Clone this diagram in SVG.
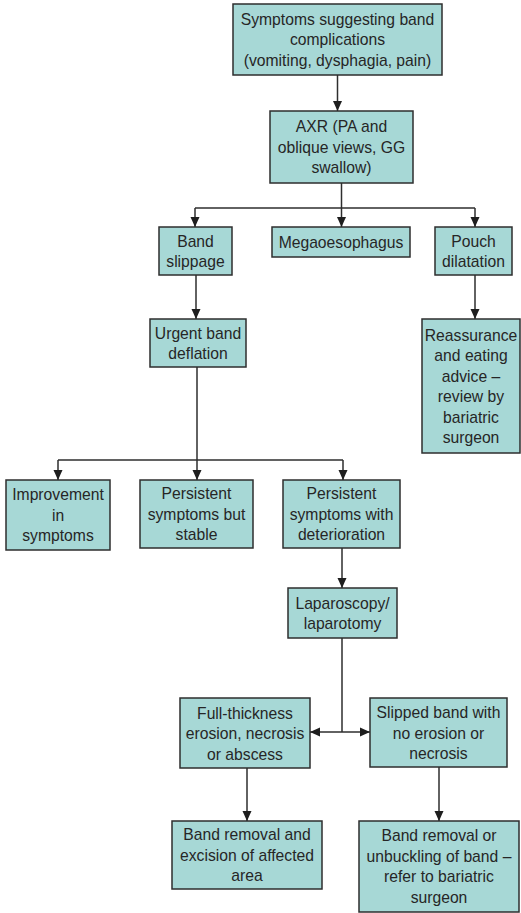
<svg xmlns="http://www.w3.org/2000/svg" width="521" height="913" viewBox="0 0 521 913">
<style>
.box{fill:#a7d8d6;stroke:#2e2e2e;stroke-width:1.5}
.t{font-family:"Liberation Sans",Arial,sans-serif;font-size:15.7px;fill:#262626;text-anchor:middle}
.c{fill:none;stroke:#2e2e2e;stroke-width:1.5}
</style>
<defs>
<marker id="ah" markerUnits="userSpaceOnUse" markerWidth="10" markerHeight="10" viewBox="0 0 10 10" refX="10" refY="5" orient="auto">
<path d="M0,0.5 L10,5 L0,9.5 Z" fill="#1e1e1e"/>
</marker>
</defs>
<rect width="521" height="913" fill="#ffffff"/>
<g id="connectors">
<line class="c" x1="337.5" y1="75" x2="337.5" y2="111" marker-end="url(#ah)"/>
<line class="c" x1="341.5" y1="183" x2="341.5" y2="227" marker-end="url(#ah)"/>
<line class="c" x1="195" y1="208" x2="475" y2="208"/>
<line class="c" x1="195" y1="208" x2="195" y2="227" marker-end="url(#ah)"/>
<line class="c" x1="475" y1="208" x2="475" y2="227" marker-end="url(#ah)"/>
<line class="c" x1="196" y1="275" x2="196" y2="319" marker-end="url(#ah)"/>
<line class="c" x1="475" y1="275" x2="475" y2="319" marker-end="url(#ah)"/>
<line class="c" x1="197" y1="367" x2="197" y2="480" marker-end="url(#ah)"/>
<line class="c" x1="58" y1="460" x2="343" y2="460"/>
<line class="c" x1="58" y1="460" x2="58" y2="480" marker-end="url(#ah)"/>
<line class="c" x1="343" y1="460" x2="343" y2="480" marker-end="url(#ah)"/>
<line class="c" x1="342" y1="548" x2="342" y2="588" marker-end="url(#ah)"/>
<line class="c" x1="342" y1="638" x2="342" y2="732"/>
<line class="c" x1="342" y1="732" x2="310" y2="732" marker-end="url(#ah)"/>
<line class="c" x1="342" y1="732" x2="370" y2="732" marker-end="url(#ah)"/>
<line class="c" x1="247" y1="768" x2="247" y2="821" marker-end="url(#ah)"/>
<line class="c" x1="439" y1="767" x2="439" y2="821" marker-end="url(#ah)"/>
</g>
<g id="symptoms">
<rect class="box" x="233" y="4" width="209" height="71"/>
<text class="t" x="337.5" y="24.5">Symptoms suggesting band</text>
<text class="t" x="337.5" y="45">complications</text>
<text class="t" x="337.5" y="65.5">(vomiting, dysphagia, pain)</text>
</g>
<g id="axr">
<rect class="box" x="270" y="111" width="143" height="72"/>
<text class="t" x="341.5" y="132">AXR (PA and</text>
<text class="t" x="341.5" y="152.5">oblique views, GG</text>
<text class="t" x="341.5" y="173">swallow)</text>
</g>
<g id="band-slippage">
<rect class="box" x="159" y="227" width="73" height="48"/>
<text class="t" x="195.5" y="246.5">Band</text>
<text class="t" x="195.5" y="267">slippage</text>
</g>
<g id="megaoesophagus">
<rect class="box" x="272" y="227" width="138" height="30"/>
<text class="t" x="341" y="247.5">Megaoesophagus</text>
</g>
<g id="pouch-dilatation">
<rect class="box" x="435" y="227" width="77" height="48"/>
<text class="t" x="473.5" y="246.5">Pouch</text>
<text class="t" x="473.5" y="267">dilatation</text>
</g>
<g id="reassurance">
<rect class="box" x="422" y="319" width="98" height="134"/>
<text class="t" x="471" y="340.5">Reassurance</text>
<text class="t" x="471" y="361">and eating</text>
<text class="t" x="471" y="381.5">advice –</text>
<text class="t" x="471" y="402">review by</text>
<text class="t" x="471" y="422.5">bariatric</text>
<text class="t" x="471" y="443">surgeon</text>
</g>
<g id="urgent-deflation">
<rect class="box" x="150" y="319" width="96" height="48"/>
<text class="t" x="198" y="338.5">Urgent band</text>
<text class="t" x="198" y="359">deflation</text>
</g>
<g id="improvement">
<rect class="box" x="6" y="480" width="104" height="70"/>
<text class="t" x="58" y="500">Improvement</text>
<text class="t" x="58" y="520.5">in</text>
<text class="t" x="58" y="541">symptoms</text>
</g>
<g id="persistent-stable">
<rect class="box" x="140" y="480" width="113" height="68"/>
<text class="t" x="196.5" y="499">Persistent</text>
<text class="t" x="196.5" y="519.5">symptoms but</text>
<text class="t" x="196.5" y="540">stable</text>
</g>
<g id="persistent-deterioration">
<rect class="box" x="283" y="480" width="117" height="68"/>
<text class="t" x="341.5" y="499">Persistent</text>
<text class="t" x="341.5" y="519.5">symptoms with</text>
<text class="t" x="341.5" y="540">deterioration</text>
</g>
<g id="laparoscopy">
<rect class="box" x="288" y="588" width="109" height="50"/>
<text class="t" x="342.5" y="608.5">Laparoscopy/</text>
<text class="t" x="342.5" y="629">laparotomy</text>
</g>
<g id="full-thickness">
<rect class="box" x="180" y="698" width="130" height="70"/>
<text class="t" x="245" y="718.5">Full-thickness</text>
<text class="t" x="245" y="739">erosion, necrosis</text>
<text class="t" x="245" y="759.5">or abscess</text>
</g>
<g id="slipped-band">
<rect class="box" x="370" y="698" width="137" height="69"/>
<text class="t" x="438.5" y="718">Slipped band with</text>
<text class="t" x="438.5" y="738.5">no erosion or</text>
<text class="t" x="438.5" y="759">necrosis</text>
</g>
<g id="band-removal-excision">
<rect class="box" x="172" y="821" width="150" height="68"/>
<text class="t" x="247" y="840">Band removal and</text>
<text class="t" x="247" y="860.5">excision of affected</text>
<text class="t" x="247" y="881">area</text>
</g>
<g id="band-removal-unbuckling">
<rect class="box" x="359" y="821" width="160" height="91"/>
<text class="t" x="439" y="841">Band removal or</text>
<text class="t" x="439" y="861.5">unbuckling of band –</text>
<text class="t" x="439" y="882">refer to bariatric</text>
<text class="t" x="439" y="902.5">surgeon</text>
</g>
</svg>
